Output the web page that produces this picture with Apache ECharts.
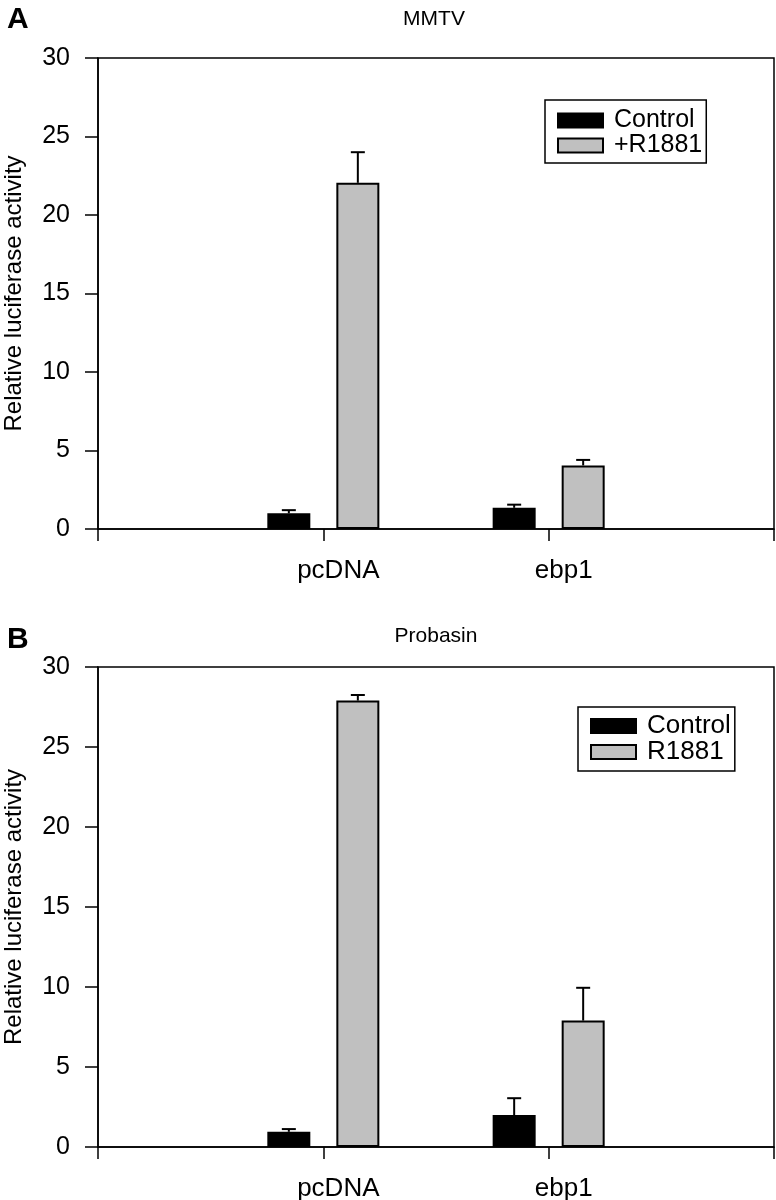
<!DOCTYPE html>
<html><head><meta charset="utf-8">
<script src="https://cdn.jsdelivr.net/npm/echarts@6/dist/echarts.min.js"></script>
<style>html,body{margin:0;padding:0;background:#fff}#c{width:776px;height:1200px}</style>
</head><body><div id="c"></div>
<script>
const categories = ['pcDNA', 'ebp1'];
const yTickStep = 5;
const yMax = 30;
const mmtvControl = [1.0, 1.35];
const mmtvControlErr = [0.2, 0.2];
const mmtvR1881 = [22.05, 4.05];
const mmtvR1881Err = [1.95, 0.35];
const probControl = [0.95, 2.0];
const probControlErr = [0.17, 1.05];
const probR1881 = [27.9, 7.9];
const probR1881Err = [0.35, 2.05];

const FONT = "'Liberation Sans', Arial, Helvetica, sans-serif";
const axisData = [''].concat(categories, ['']);
const BAR_W = 43, GAP = 26;
const OFF = (BAR_W + GAP) / 2;

function padData(vals) { return ['-'].concat(vals, ['-']); }

function barSeries(name, gi, vals, color) {
  return {
    name: name, type: 'bar', xAxisIndex: gi, yAxisIndex: gi,
    data: padData(vals), barWidth: BAR_W, barGap: (GAP / BAR_W * 100).toFixed(1) + '%',
    itemStyle: { color: color, borderColor: '#000', borderWidth: 2 },
    emphasis: { disabled: true }, animation: false
  };
}
function errSeries(gi, vals, errs, offset) {
  return {
    type: 'custom', xAxisIndex: gi, yAxisIndex: gi, z: 10, animation: false,
    data: vals.map((v, i) => [i + 1, v, errs[i]]),
    encode: { x: 0, y: 1 },
    renderItem: function (params, api) {
      const base = api.coord([api.value(0), api.value(1)]);
      const top = api.coord([api.value(0), api.value(1) + api.value(2)]);
      const x = base[0] + offset;
      return { type: 'group', children: [
        { type: 'line', shape: { x1: x, y1: base[1], x2: x, y2: top[1] }, style: { stroke: '#000', lineWidth: 2 } },
        { type: 'line', shape: { x1: x - 7, y1: top[1], x2: x + 7, y2: top[1] }, style: { stroke: '#000', lineWidth: 2 } }
      ]};
    }
  };
}
function xAxis(gi) {
  return {
    type: 'category', gridIndex: gi, data: axisData, boundaryGap: false,
    axisLine: { lineStyle: { color: '#000', width: 1.5 } },
    axisTick: { length: 12, interval: 0, lineStyle: { color: '#000', width: 1.5 } },
    axisLabel: { interval: 0, color: '#000', fontSize: 26, fontFamily: FONT, margin: 29, padding: [0, 0, 0, 30] },
    splitLine: { show: false }
  };
}
function yAxis(gi) {
  return {
    type: 'value', gridIndex: gi, min: 0, max: yMax, interval: yTickStep,
    axisLine: { show: true, lineStyle: { color: '#000', width: 1.5 } },
    axisTick: { show: true, length: 13, lineStyle: { color: '#000', width: 1.5 } },
    axisLabel: { color: '#000', fontSize: 25, fontFamily: FONT, margin: 28 },
    splitLine: { show: false },
    name: 'Relative luciferase activity', nameLocation: 'middle', nameGap: 72,
    nameTextStyle: { color: '#000', fontSize: 24, fontFamily: FONT }
  };
}

const chart = echarts.init(document.getElementById('c'), null, { renderer: 'canvas' });
chart.setOption({
  animation: false,
  backgroundColor: '#fff',
  grid: [
    { left: 98, right: 2, top: 58, height: 471, show: true, borderColor: '#000', borderWidth: 1.5, containLabel: false, outerBoundsMode: 'none' },
    { left: 98, right: 2, top: 667, height: 480, show: true, borderColor: '#000', borderWidth: 1.5, containLabel: false, outerBoundsMode: 'none' }
  ],
  xAxis: [xAxis(0), xAxis(1)],
  yAxis: [yAxis(0), yAxis(1)],
  legend: [
    { data: ['Control', '+R1881'], orient: 'vertical', left: 545, top: 100, icon: 'rect', itemWidth: 45, itemHeight: 14, itemGap: 0,
      borderColor: '#000', borderWidth: 1.5, padding: [8, 4, 5, 12], selectedMode: false,
      textStyle: { color: '#000', fontSize: 25, fontFamily: FONT, lineHeight: 21, padding: [0, 0, 0, 6] } },
    { data: ['Control', 'R1881'], orient: 'vertical', left: 578, top: 707, icon: 'rect', itemWidth: 45, itemHeight: 14, itemGap: 0,
      borderColor: '#000', borderWidth: 1.5, padding: [6, 4, 6, 12], selectedMode: false,
      textStyle: { color: '#000', fontSize: 26, fontFamily: FONT, lineHeight: 24, padding: [0, 0, 0, 6] } }
  ],
  graphic: [
    { type: 'text', x: 7, y: 20, style: { text: 'A', fontSize: 30, fontWeight: 'bold', fontFamily: FONT, fill: '#000', verticalAlign: 'middle' } },
    { type: 'text', x: 7, y: 640, style: { text: 'B', fontSize: 30, fontWeight: 'bold', fontFamily: FONT, fill: '#000', verticalAlign: 'middle' } },
    { type: 'text', x: 434, y: 19, style: { text: 'MMTV', fontSize: 21, fontFamily: FONT, fill: '#000', align: 'center', verticalAlign: 'middle' } },
    { type: 'text', x: 436, y: 636, style: { text: 'Probasin', fontSize: 21, fontFamily: FONT, fill: '#000', align: 'center', verticalAlign: 'middle' } }
  ],
  series: [
    barSeries('Control', 0, mmtvControl, '#000'),
    barSeries('+R1881', 0, mmtvR1881, '#c0c0c0'),
    errSeries(0, mmtvControl, mmtvControlErr, -OFF),
    errSeries(0, mmtvR1881, mmtvR1881Err, OFF),
    barSeries('Control', 1, probControl, '#000'),
    barSeries('R1881', 1, probR1881, '#c0c0c0'),
    errSeries(1, probControl, probControlErr, -OFF),
    errSeries(1, probR1881, probR1881Err, OFF)
  ]
});
</script>
</body></html>
